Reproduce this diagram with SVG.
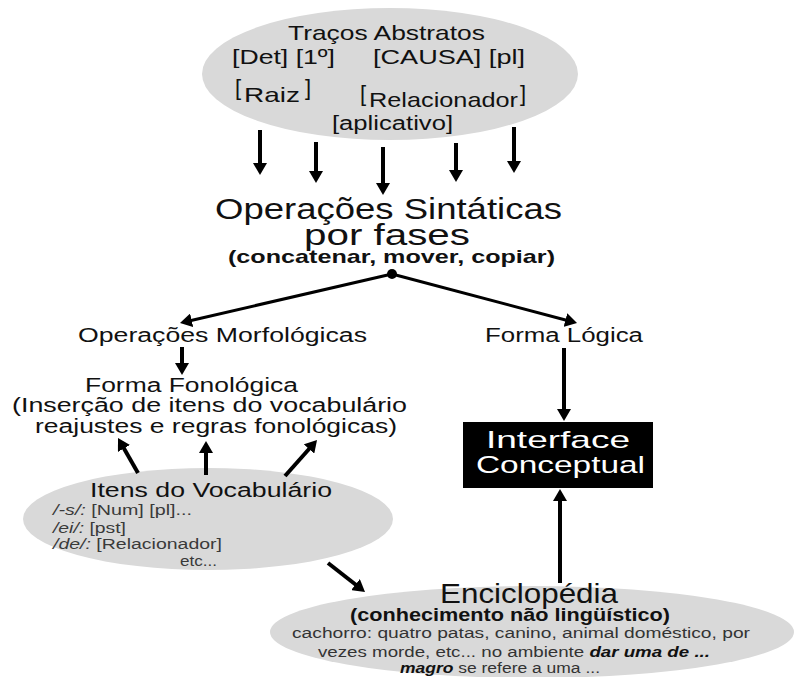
<svg xmlns="http://www.w3.org/2000/svg" width="795" height="677" viewBox="0 0 795 677">
<style>
text{font-family:"Liberation Sans",Arial,sans-serif;fill:#111}
.ell{fill:#d9d9d9;stroke:none}
.arr{stroke:#000;stroke-width:4;fill:none;marker-end:url(#ah)}
.ln{stroke:#000;stroke-width:3;fill:none}
.sm{font-size:14px;fill:#3a3a3a}
.body{font-size:14px;fill:#333}
.wt{fill:#fff;font-size:24px}
</style>
<defs>
<marker id="ah" markerUnits="userSpaceOnUse" markerWidth="14" markerHeight="14" refX="4" refY="7" orient="auto">
<path d="M0,0 L12,7 L0,14 z" fill="#000"/>
</marker>
</defs>
<rect width="795" height="677" fill="#fff"/>

<g id="tracos">
<ellipse class="ell" cx="390" cy="74" rx="188" ry="66"/>
<text x="288" y="40" font-size="21" textLength="197" lengthAdjust="spacingAndGlyphs">Traços Abstratos</text>
<text x="232" y="64" font-size="20" textLength="103" lengthAdjust="spacingAndGlyphs">[Det] [1º]</text>
<text x="373" y="64" font-size="20" textLength="152" lengthAdjust="spacingAndGlyphs">[CAUSA] [pl]</text>
<text x="235" y="95" font-size="22">[</text>
<text x="244" y="102" font-size="21" textLength="56" lengthAdjust="spacingAndGlyphs">Raiz</text>
<text x="305" y="95" font-size="22">]</text>
<text x="360" y="101" font-size="22">[</text>
<text x="369" y="107" font-size="21" textLength="149" lengthAdjust="spacingAndGlyphs">Relacionador</text>
<text x="520" y="101" font-size="22">]</text>
<text x="332" y="130" font-size="20" textLength="121" lengthAdjust="spacingAndGlyphs">[aplicativo]</text>
</g>

<g id="sintaticas">
<text x="215" y="219" font-size="29" textLength="347" lengthAdjust="spacingAndGlyphs">Operações Sintáticas</text>
<text x="304" y="245" font-size="29" textLength="166" lengthAdjust="spacingAndGlyphs">por fases</text>
<text x="228" y="263" font-size="19" font-weight="bold" textLength="327" lengthAdjust="spacingAndGlyphs">(concatenar, mover, copiar)</text>
<circle cx="392" cy="274" r="5" fill="#000"/>
</g>

<g id="morfologicas">
<text x="78" y="342" font-size="20" textLength="289" lengthAdjust="spacingAndGlyphs">Operações Morfológicas</text>
</g>

<g id="formalogica">
<text x="485" y="342" font-size="20" textLength="158" lengthAdjust="spacingAndGlyphs">Forma Lógica</text>
</g>

<g id="formafonologica">
<text x="85" y="392" font-size="20" textLength="213" lengthAdjust="spacingAndGlyphs">Forma Fonológica</text>
<text x="12" y="412" font-size="20" textLength="395" lengthAdjust="spacingAndGlyphs">(Inserção de itens do vocabulário</text>
<text x="35" y="433" font-size="20" textLength="362" lengthAdjust="spacingAndGlyphs">reajustes e regras fonológicas)</text>
</g>

<g id="interface">
<rect x="463" y="422" width="190" height="66" fill="#000"/>
<text class="wt" x="486" y="448" textLength="144" lengthAdjust="spacingAndGlyphs">Interface</text>
<text class="wt" x="476" y="473" textLength="169" lengthAdjust="spacingAndGlyphs">Conceptual</text>
</g>

<g id="itens">
<ellipse class="ell" cx="208" cy="519" rx="185" ry="51"/>
<text x="90" y="497" font-size="20" textLength="242" lengthAdjust="spacingAndGlyphs">Itens do Vocabulário</text>
<text class="sm" x="53" y="515" textLength="139" lengthAdjust="spacingAndGlyphs"><tspan font-style="italic">/-s/:</tspan> [Num] [pl]...</text>
<text class="sm" x="53" y="533" textLength="73" lengthAdjust="spacingAndGlyphs"><tspan font-style="italic">/ei/:</tspan> [pst]</text>
<text class="sm" x="53" y="549" textLength="169" lengthAdjust="spacingAndGlyphs"><tspan font-style="italic">/de/:</tspan> [Relacionador]</text>
<text class="sm" x="180" y="566" textLength="37" lengthAdjust="spacingAndGlyphs">etc...</text>
</g>

<g id="enciclopedia">
<ellipse class="ell" cx="532" cy="632" rx="262" ry="46"/>
<text x="440" y="603" font-size="28" textLength="178" lengthAdjust="spacingAndGlyphs">Enciclopédia</text>
<text x="350" y="621" font-size="18" font-weight="bold" textLength="320" lengthAdjust="spacingAndGlyphs">(conhecimento não lingüístico)</text>
<text class="body" x="292" y="638" textLength="458" lengthAdjust="spacingAndGlyphs">cachorro: quatro patas, canino, animal doméstico, por</text>
<text class="body" x="318" y="657" textLength="392" lengthAdjust="spacingAndGlyphs">vezes morde, etc... no ambiente <tspan font-weight="bold" font-style="italic" fill="#111">dar uma de ...</tspan></text>
<text class="body" x="400" y="673" textLength="200" lengthAdjust="spacingAndGlyphs"><tspan font-weight="bold" font-style="italic" fill="#111">magro</tspan>  se refere a uma ...</text>
</g>

<g id="connectors">
<line class="arr" x1="260" y1="130" x2="260" y2="167"/>
<line class="arr" x1="316" y1="142" x2="316" y2="175"/>
<line class="arr" x1="383" y1="147" x2="383" y2="187"/>
<line class="arr" x1="456" y1="143" x2="456" y2="174"/>
<line class="arr" x1="514" y1="127" x2="514" y2="165"/>
<line class="ln" x1="392" y1="274" x2="187.8" y2="321.2" marker-end="url(#ah)"/>
<line class="ln" x1="392" y1="274" x2="569.3" y2="321" marker-end="url(#ah)"/>
<line class="arr" x1="182" y1="347" x2="182" y2="367"/>
<line class="arr" x1="138" y1="473" x2="122" y2="445"/>
<line class="arr" x1="206" y1="475" x2="206" y2="449"/>
<line class="arr" x1="285" y1="476" x2="311.7" y2="446"/>
<line class="arr" x1="328" y1="563" x2="358.7" y2="587"/>
<line class="arr" x1="564" y1="348" x2="564" y2="413"/>
<line class="arr" x1="560" y1="583" x2="560" y2="497"/>
</g>
</svg>
